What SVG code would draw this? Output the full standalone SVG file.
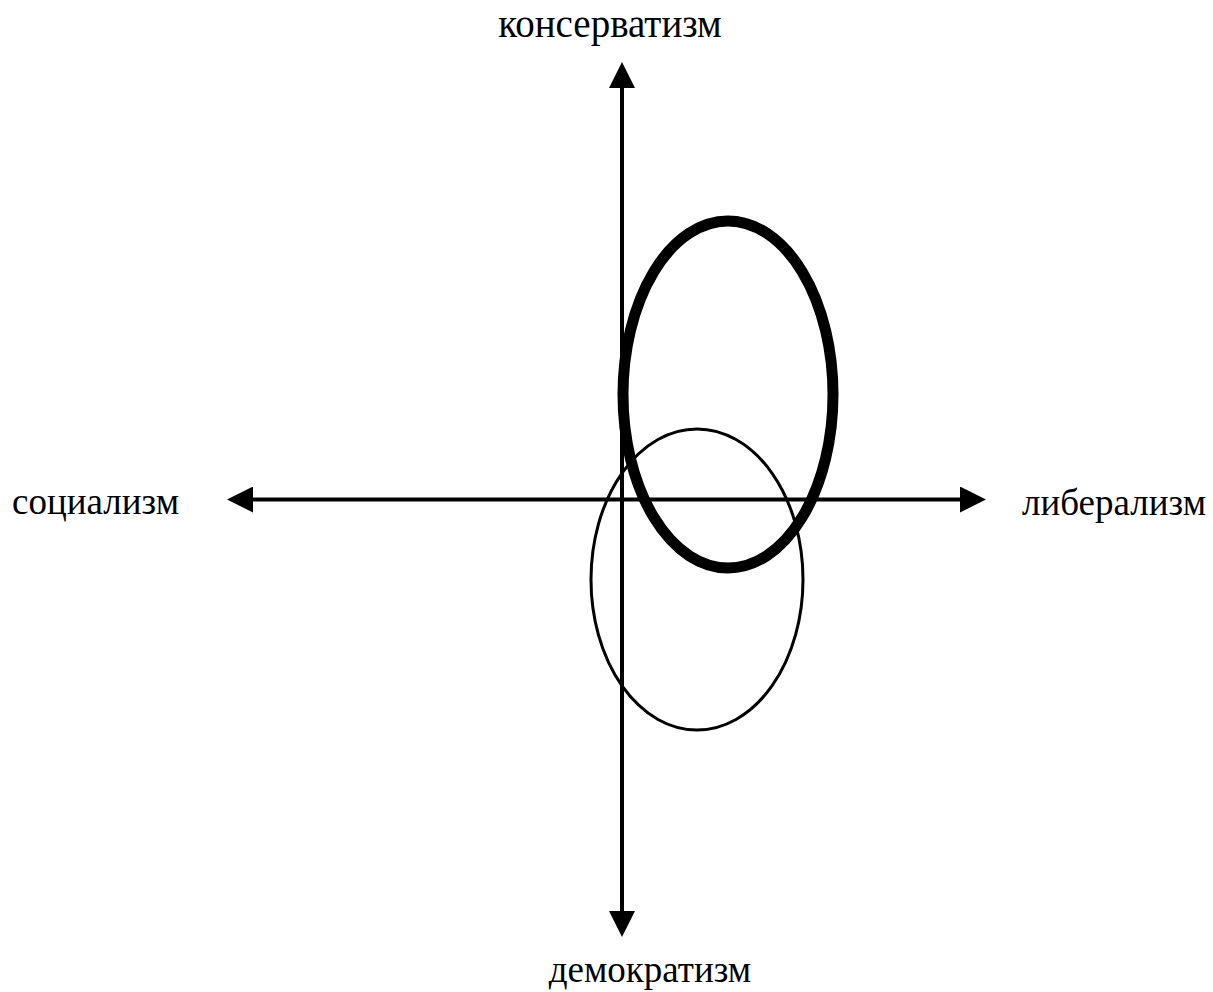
<svg xmlns="http://www.w3.org/2000/svg" width="1213" height="992" viewBox="0 0 1213 992">
<style>
.lbl{font-family:"Liberation Serif","Times New Roman",serif;font-size:37px;fill:#000}
.axis{stroke:#000;stroke-width:4;fill:none}
</style>
<defs>
<marker id="ah" viewBox="0 0 26 26" refX="0" refY="13" markerWidth="26" markerHeight="26" markerUnits="userSpaceOnUse" orient="auto">
<path d="M0,0 L26,13 L0,26 Z" fill="#000"/>
</marker>
</defs>
<rect width="1213" height="992" fill="#fff"/>
<g id="connectors">
<line class="axis" x1="622" y1="499.5" x2="622" y2="88" marker-end="url(#ah)"/>
<line class="axis" x1="622" y1="499.5" x2="622" y2="911" marker-end="url(#ah)"/>
<line class="axis" x1="622" y1="499.5" x2="253" y2="499.5" marker-end="url(#ah)"/>
<line class="axis" x1="622" y1="499.5" x2="960" y2="499.5" marker-end="url(#ah)"/>
</g>
<g id="ellipse-thick">
<ellipse cx="728" cy="394.5" rx="105" ry="173.5" fill="none" stroke="#000" stroke-width="11"/>
</g>
<g id="ellipse-thin">
<ellipse cx="697" cy="579.5" rx="106" ry="150.5" fill="none" stroke="#000" stroke-width="3"/>
</g>
<g id="label-top"><text class="lbl" x="610" y="37" text-anchor="middle" style="font-size:39px">консерватизм</text></g>
<g id="label-left"><text class="lbl" x="12" y="514">социализм</text></g>
<g id="label-right"><text class="lbl" x="1022" y="515">либерализм</text></g>
<g id="label-bottom"><text class="lbl" x="650" y="982" text-anchor="middle">демократизм</text></g>
</svg>
